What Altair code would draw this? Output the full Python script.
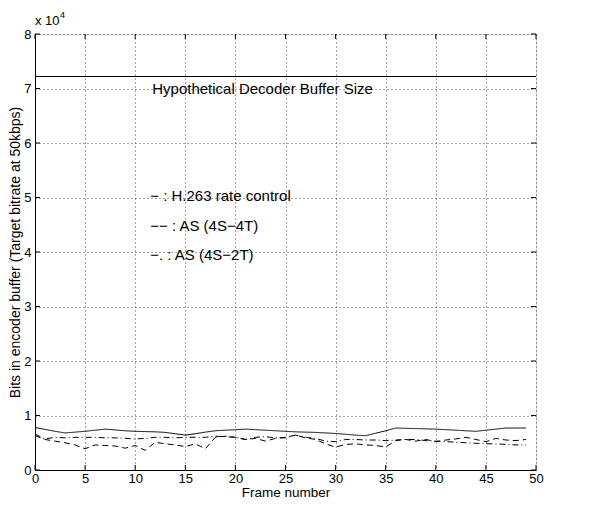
import altair as alt
import pandas as pd

frames = list(range(50))

h263 = [7800, 7450, 7100, 6800, 6950, 7100, 7300, 7500, 7350, 7200,
        7100, 7050, 7000, 6900, 6650, 6400, 6650, 6950, 7200, 7300,
        7400, 7500, 7400, 7300, 7200, 7100, 7000, 6950, 6900, 6800,
        6700, 6550, 6400, 6300, 6750, 7200, 7700, 7650, 7600, 7550,
        7500, 7400, 7300, 7200, 7100, 7300, 7500, 7700, 7700, 7700]

as_4s4t = [6300, 5600, 5300, 5000, 4600, 3900, 4600, 4500, 4400, 4000,
           4500, 3600, 5100, 4800, 4600, 4300, 4800, 3900, 6000, 6200,
           6000, 5600, 5800, 5300, 5800, 6000, 6400, 5900, 5600, 4800,
           4200, 4700, 4800, 4600, 4500, 4200, 5400, 5600, 5300, 5600,
           5200, 5500, 5700, 6000, 5600, 5200, 5800, 5500, 5400, 5600]

as_4s2t = [6600, 5700, 6000, 5900, 6000, 6000, 6000, 5900, 5900, 5800,
           5700, 5800, 6000, 6000, 5900, 6000, 6000, 6000, 6200, 6100,
           6000, 5600, 6000, 6100, 5900, 5900, 6400, 6000, 5800, 5300,
           5200, 5600, 5600, 5500, 5500, 5400, 5500, 5600, 5600, 5400,
           5300, 5200, 5100, 5000, 4900, 4800, 4800, 4700, 4600, 4600]

series_names = ["H.263 rate control", "AS (4S-4T)", "AS (4S-2T)"]
buffer_size = 72200

legend_texts = ["\u2212 : H.263 rate control", "\u2212\u2212 :  AS (4S\u22124T)", "\u2212. :  AS (4S\u22122T)"]
legend_y = [50300, 44800, 39400]
legend_x = [11.5, 11.5, 11.5]

annot_text = ["Hypothetical Decoder Buffer Size"]
annot_x = [11.7]
annot_y = [69900]

x_ticks = list(range(0, 51, 5))
y_ticks = list(range(0, 80001, 10000))

W, H = 501, 436
FONT = "Liberation Sans"

rows = []
for name, vals in zip(series_names, [h263, as_4s4t, as_4s2t]):
    for f, v in zip(frames, vals):
        rows.append({"frame": f, "bits": v, "series": name})
df = pd.DataFrame(rows)

xscale = alt.Scale(domain=[0, 50], nice=False, zero=False)
yscale = alt.Scale(domain=[0, 80000], nice=False)

xaxis = alt.Axis(values=x_ticks, ticks=False, labelFontSize=13, titleFontSize=13.5,
                 labelFont=FONT, titleFont=FONT, labelColor="black", titleColor="black",
                 titleFontWeight="normal", labelPadding=2, titlePadding=0,
                 grid=True, gridDash=[1, 3], gridColor="black", gridOpacity=0.7,
                 domainColor="black", labelFlush=False)
yaxis = alt.Axis(values=y_ticks, ticks=False, labelFontSize=13, titleFontSize=14,
                 labelFont=FONT, titleFont=FONT, labelColor="black", titleColor="black",
                 titleFontWeight="normal", labelPadding=4, titlePadding=1,
                 labelExpr="datum.value / 10000",
                 grid=True, gridDash=[1, 3], gridColor="black", gridOpacity=0.7,
                 domainColor="black", labelFlush=False)

lines = alt.Chart(df).mark_line(strokeWidth=1, color="black").encode(
    x=alt.X("frame:Q", scale=xscale, axis=xaxis, title="Frame number"),
    y=alt.Y("bits:Q", scale=yscale, axis=yaxis,
            title="Bits in encoder buffer (Target bitrate at 50kbps)"),
    strokeDash=alt.StrokeDash("series:N", scale=alt.Scale(
        domain=series_names, range=[[1, 0], [6, 4], [6, 3, 1, 3]]), legend=None),
    detail="series:N",
)

buf = alt.Chart(pd.DataFrame({"b": [buffer_size]})).mark_rule(color="black", strokeWidth=1).encode(
    y=alt.Y("b:Q", scale=yscale),
    x=alt.value(0), x2=alt.value(W),
)

leg = alt.Chart(pd.DataFrame({"x": legend_x, "y": legend_y, "t": legend_texts})).mark_text(
    align="left", baseline="middle", font=FONT, fontSize=15, color="black").encode(
    x=alt.X("x:Q", scale=xscale), y=alt.Y("y:Q", scale=yscale), text="t:N")

ann = alt.Chart(pd.DataFrame({"x": annot_x, "y": annot_y, "t": annot_text})).mark_text(
    align="left", baseline="middle", font=FONT, fontSize=15, color="black").encode(
    x=alt.X("x:Q", scale=xscale), y=alt.Y("y:Q", scale=yscale), text="t:N")

dfx = pd.DataFrame({"v": x_ticks})
dfy = pd.DataFrame({"v": y_ticks})
tb = alt.Chart(dfx).mark_rule(color="black").encode(x=alt.X("v:Q", scale=xscale), y=alt.value(H), y2=alt.value(H - 5))
tt = alt.Chart(dfx).mark_rule(color="black").encode(x=alt.X("v:Q", scale=xscale), y=alt.value(0), y2=alt.value(5))
tl = alt.Chart(dfy).mark_rule(color="black").encode(y=alt.Y("v:Q", scale=yscale), x=alt.value(0), x2=alt.value(5))
tr = alt.Chart(dfy).mark_rule(color="black").encode(y=alt.Y("v:Q", scale=yscale), x=alt.value(W), x2=alt.value(W - 5))

mult = alt.Chart(pd.DataFrame({"t": ["x 10"]})).mark_text(
    align="left", baseline="alphabetic", font=FONT, fontSize=13, color="black").encode(
    x=alt.value(0), y=alt.value(-9), text="t:N")
expo = alt.Chart(pd.DataFrame({"t": ["4"]})).mark_text(
    align="left", baseline="alphabetic", font=FONT, fontSize=9, color="black").encode(
    x=alt.value(25), y=alt.value(-16), text="t:N")

chart = alt.layer(lines, buf, leg, ann, tb, tt, tl, tr, mult, expo).properties(
    width=W, height=H, autosize="none",
    padding={"left": 27, "top": 26, "right": 40, "bottom": 28},
).configure_view(stroke="black", strokeWidth=1).configure(background="white")

chart.save("out.html", embed_options={"renderer": "svg", "actions": False})
